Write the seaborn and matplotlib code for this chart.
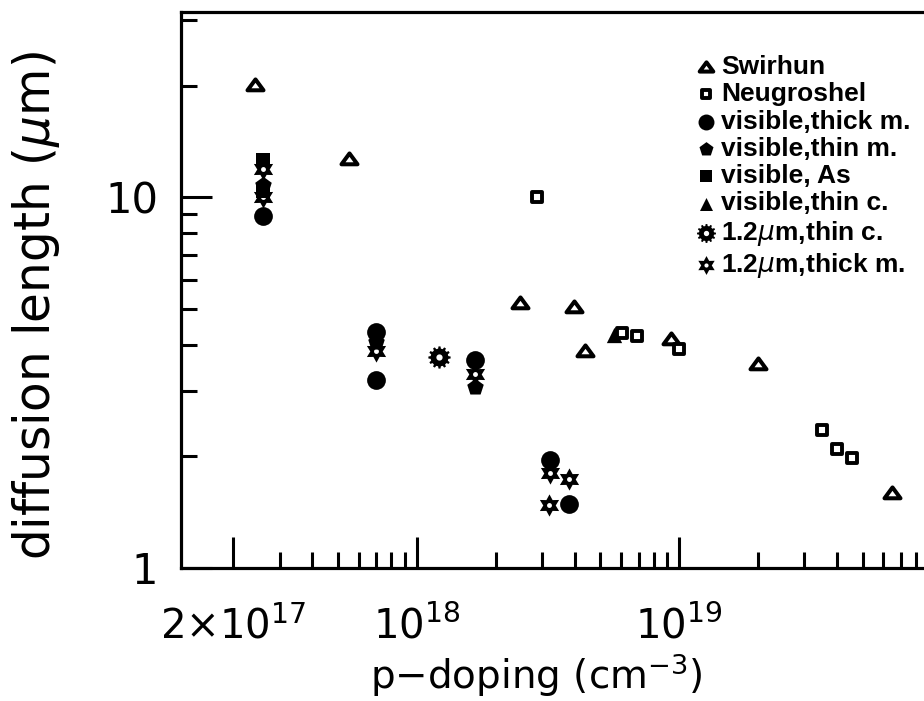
import numpy as np
import pandas as pd
import matplotlib
matplotlib.use("Agg")
import matplotlib.pyplot as plt
import seaborn as sns
from matplotlib.path import Path
from matplotlib.markers import MarkerStyle
from matplotlib.ticker import FixedLocator, FixedFormatter, NullFormatter

# ---------------- data ----------------
swirhun_x = [2.42e17, 5.5e17, 2.48e18, 3.96e18, 4.39e18, 9.33e18, 1.99e19, 6.5e19]
swirhun_y = [20.1, 12.7, 5.2, 5.05, 3.85, 4.15, 3.56, 1.59]
neug_x = [2.88e18, 6.04e18, 6.93e18, 1.0e19, 3.51e19, 4.01e19, 4.57e19]
neug_y = [10.0, 4.30, 4.22, 3.89, 2.36, 2.10, 1.98]
vis_thick_x = [2.58e17, 6.98e17, 6.98e17, 1.66e18, 3.23e18, 3.79e18]
vis_thick_y = [8.93, 4.32, 3.21, 3.64, 1.95, 1.49]
vis_thin_m_x = [2.58e17, 6.98e17, 1.66e18]
vis_thin_m_y = [10.8, 4.08, 3.08]
vis_as_x = [2.58e17, 2.58e17]
vis_as_y = [12.6, 10.4]
vis_thin_c_x = [5.63e18]
vis_thin_c_y = [4.24]
ir_thin_c_x = [1.21e18]
ir_thin_c_y = [3.72]
ir_thick_x = [2.58e17, 2.58e17, 6.98e17, 1.66e18, 3.21e18, 3.79e18, 3.2e18]
ir_thick_y = [11.9, 10.0, 3.84, 3.33, 1.80, 1.74, 1.48]

labels = ["Swirhun", "Neugroshel", "visible,thick m.", "visible,thin m.",
          "visible, As", "visible,thin c.", "1.2$\\mu$m,thin c.", "1.2$\\mu$m,thick m."]

x_major = [2e17, 1e18, 1e19, 1e20]
x_major_labels = ["$2{\\times}10^{17}$", "$10^{18}$", "$10^{19}$", ""]
x_minor = [3e17, 4e17, 5e17, 6e17, 7e17, 8e17, 9e17,
           2e18, 3e18, 4e18, 5e18, 6e18, 7e18, 8e18, 9e18,
           2e19, 3e19, 4e19, 5e19, 6e19, 7e19, 8e19, 9e19]
y_major = [1, 10]
y_major_labels = ["1", "10"]
y_minor = [2, 3, 4, 5, 6, 7, 8, 9, 20, 30]

# ---------------- custom marker paths ----------------
def ring_hole(r, n=24):
    ang = np.linspace(0, -2 * np.pi, n, endpoint=False)
    return [(r * np.cos(a), r * np.sin(a)) for a in ang]

def polygon_with_hole(outer, hole):
    verts = list(outer) + [outer[0]] + list(hole) + [hole[0]]
    codes = ([Path.MOVETO] + [Path.LINETO] * (len(outer) - 1) + [Path.CLOSEPOLY] +
             [Path.MOVETO] + [Path.LINETO] * (len(hole) - 1) + [Path.CLOSEPOLY])
    return Path(verts, codes)

def gear_marker(n=12, r_out=1.0, r_in=0.80, hole=0.28):
    outer = []
    for k in range(n):
        a = 2 * np.pi * k / n + np.pi / 2
        da = 2 * np.pi / n
        for f, r in [(-0.30, r_in), (-0.17, r_out), (0.17, r_out), (0.30, r_in)]:
            outer.append((r * np.cos(a + f * da), r * np.sin(a + f * da)))
    return polygon_with_hole(outer, ring_hole(hole))

def star_marker(n=6, r_out=1.0, r_in=0.56, hole=0.22):
    outer = []
    for k in range(2 * n):
        a = np.pi / 2 + np.pi * k / n
        r = r_out if k % 2 == 0 else r_in
        outer.append((r * np.cos(a), r * np.sin(a)))
    return polygon_with_hole(outer, ring_hole(hole))

tri_path = Path([(0, 0.76), (-1, -0.60), (1, -0.60), (0, 0.76)],
                [Path.MOVETO, Path.LINETO, Path.LINETO, Path.CLOSEPOLY])

# ---------------- figure ----------------
sns.set_style("white")
plt.rcParams["font.family"] = ["DejaVu Sans"]
plt.rcParams["mathtext.fontset"] = "dejavusans"
for k in ["text.color", "axes.labelcolor", "xtick.color", "ytick.color", "axes.edgecolor"]:
    plt.rcParams[k] = "black"

W, H = 924, 701
fig = plt.figure(figsize=(W / 100, H / 100), dpi=100)
ax_left, ax_right, ax_top, ax_bot = 180.5, 941.5, 12, 568
ax = fig.add_axes([ax_left / W, (H - ax_bot) / H, (ax_right - ax_left) / W, (ax_bot - ax_top) / H])
ax.set_xscale("log")
ax.set_yscale("log")

series = [
    (swirhun_x, swirhun_y, MarkerStyle(tri_path), 11.5 ** 2, "white", 2.9),
    (neug_x, neug_y, "s", 7.5 ** 2, "white", 2.8),
    (vis_thick_x, vis_thick_y, "o", 13.5 ** 2, "black", 0),
    (vis_thin_m_x, vis_thin_m_y, "p", 12.5 ** 2, "black", 0),
    (vis_as_x, vis_as_y, "s", 10 ** 2, "black", 0),
    (vis_thin_c_x, vis_thin_c_y, "^", 11 ** 2, "black", 0),
    (ir_thin_c_x, ir_thin_c_y, MarkerStyle(gear_marker()), 16 ** 2, "black", 0),
    (ir_thick_x, ir_thick_y, MarkerStyle(star_marker()), 16 ** 2, "black", 0),
]

for (xs, ys, mk, s, fc, lw), lab in zip(series, labels):
    df = pd.DataFrame({"x": xs, "y": ys})
    sns.scatterplot(data=df, x="x", y="y", ax=ax, marker=mk, s=s,
                    facecolor=fc, edgecolor="black", linewidth=lw,
                    label=lab, legend=False, zorder=3, clip_on=False)

ax.set_xlim(1.256e17, 1e20)
ax.set_ylim(1, 10 ** 1.5)

ax.xaxis.set_major_locator(FixedLocator(x_major))
ax.xaxis.set_major_formatter(FixedFormatter(x_major_labels))
ax.xaxis.set_minor_locator(FixedLocator(x_minor))
ax.xaxis.set_minor_formatter(NullFormatter())
ax.yaxis.set_major_locator(FixedLocator(y_major))
ax.yaxis.set_major_formatter(FixedFormatter(y_major_labels))
ax.yaxis.set_minor_locator(FixedLocator(y_minor))
ax.yaxis.set_minor_formatter(NullFormatter())

ax.tick_params(which="both", direction="in", bottom=True, left=True, top=False, right=False,
               width=2.2, color="black", labelcolor="black")
ax.tick_params(which="major", length=22, labelsize=30)
ax.tick_params(which="minor", length=11.5)
ax.tick_params(axis="x", which="major", pad=28, labelsize=29)
ax.tick_params(axis="y", which="major", pad=16)

for sp in ax.spines.values():
    sp.set_linewidth(2.3)
    sp.set_color("black")

ax.set_xlabel("p$-$doping (cm$^{-3}$)", fontsize=28)
ax.set_ylabel("diffusion length ($\\mu$m)", fontsize=35)
ax.xaxis.set_label_coords((536 - ax_left) / (ax_right - ax_left), -(651 - ax_bot) / (ax_bot - ax_top))
ax.yaxis.set_label_coords((62 - ax_left) / (ax_right - ax_left), (ax_bot - 306) / (ax_bot - ax_top))

leg = ax.legend(loc="upper left", bbox_to_anchor=((695 - ax_left) / (ax_right - ax_left),
                                                   (ax_bot - 55) / (ax_bot - ax_top)),
                frameon=False, prop={"family": "Liberation Sans", "weight": "bold", "size": 19},
                markerscale=0.85, scatterpoints=1, handlelength=0.8, handletextpad=0.2,
                labelspacing=0.125, borderpad=0, borderaxespad=0)

fig.savefig("out.png", dpi=100, facecolor="white")
